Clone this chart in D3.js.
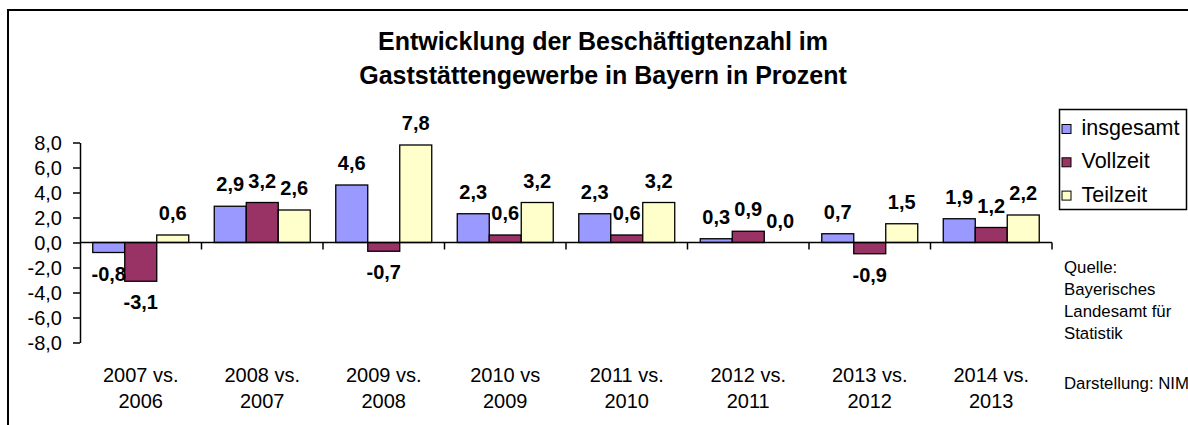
<!DOCTYPE html>
<html>
<head>
<meta charset="utf-8">
<script src="https://cdn.jsdelivr.net/npm/d3@7"></script>
<style>
  body { margin: 0; background: #fff; }
  text { font-family: "Liberation Sans", Arial, sans-serif; }
</style>
</head>
<body>
<div class="center"></div>
<script>
// data
var categories = [["2007 vs.", "2006"], ["2008 vs.", "2007"], ["2009 vs.", "2008"], ["2010 vs", "2009"],
                  ["2011 vs.", "2010"], ["2012 vs.", "2011"], ["2013 vs.", "2012"], ["2014 vs.", "2013"]];
var seriesNames = ["insgesamt", "Vollzeit", "Teilzeit"];
var insgesamt = [-0.8, 2.9, 4.6, 2.3, 2.3, 0.3, 0.7, 1.9];
var vollzeit  = [-3.1, 3.2, -0.7, 0.6, 0.6, 0.9, -0.9, 1.2];
var teilzeit  = [0.6, 2.6, 7.8, 3.2, 3.2, 0.0, 1.5, 2.2];
var yTicks = [-8, -6, -4, -2, 0, 2, 4, 6, 8];
var titleLines = ["Entwicklung der Beschäftigtenzahl im", "Gaststättengewerbe in Bayern in Prozent"];
var sourceLines = ["Quelle:", "Bayerisches", "Landesamt für", "Statistik"];
var credit = "Darstellung: NIM";

var colors = ["#9999ff", "#993366", "#ffffcc"];
var values = [insgesamt, vollzeit, teilzeit];

var width = 1188, height = 425;

var svg = d3.select(".center").append("svg")
    .attr("width", width)
    .attr("height", height);

// outer frame (only left and top visible)
svg.append("rect")
    .attr("x", 8).attr("y", 10)
    .attr("width", 1300).attr("height", 600)
    .attr("fill", "#fff")
    .attr("stroke", "#000")
    .attr("stroke-width", 2);

// scales
var x0 = d3.scaleBand()
    .domain(d3.range(categories.length))
    .range([80, 1052])
    .paddingInner(0.21)
    .paddingOuter(0.105);
var x1 = d3.scaleBand()
    .domain(seriesNames)
    .range([0, x0.bandwidth()]);
var y = d3.scaleLinear().domain([-8, 8]).range([342.5, 142.5]);

// flatten for drawing
var bars = [];
categories.forEach(function(c, i) {
    seriesNames.forEach(function(s, j) {
        bars.push({cat: i, series: s, idx: j, value: values[j][i]});
    });
});

// bars
svg.selectAll("rect.bar")
    .data(bars)
    .enter().append("rect")
    .attr("class", "bar")
    .attr("x", function(d) { return x0(d.cat) + x1(d.series); })
    .attr("width", x1.bandwidth())
    .attr("y", function(d) { return y(Math.max(0, d.value)); })
    .attr("height", function(d) { return Math.abs(y(d.value) - y(0)); })
    .attr("fill", function(d) { return colors[d.idx]; })
    .attr("stroke", "#000")
    .attr("stroke-width", 1.3);

// Y axis
var yAxis = svg.append("g")
    .attr("transform", "translate(80,0)")
    .call(d3.axisLeft(y).tickValues(yTicks).tickSize(7).tickSizeOuter(0)
        .tickFormat(function(d) { return d3.format(".1f")(d).replace(".", ",").replace("−", "-"); }));
yAxis.select(".domain").attr("stroke-width", 1.5);
yAxis.selectAll(".tick line").attr("stroke-width", 1.5);
yAxis.selectAll(".tick text")
    .attr("x", -18)
    .attr("dy", "0.36em")
    .attr("fill", "#000")
    .attr("font-size", "20px")
    .attr("font-family", "Liberation Sans, Arial, sans-serif");

// X axis at zero with category boundary ticks
var gap = (x0.step() - x0.bandwidth()) / 2;
var bounds = d3.range(categories.length).map(function(i) { return x0(i) - gap; });
bounds.push(x0(categories.length - 1) + x0.bandwidth() + gap);

svg.append("line")
    .attr("x1", 80).attr("x2", bounds[bounds.length - 1])
    .attr("y1", y(0)).attr("y2", y(0))
    .attr("stroke", "#000").attr("stroke-width", 1.5);
svg.selectAll("line.xtick")
    .data(bounds.slice(1))
    .enter().append("line")
    .attr("class", "xtick")
    .attr("x1", function(d) { return d; }).attr("x2", function(d) { return d; })
    .attr("y1", y(0)).attr("y2", y(0) + 7)
    .attr("stroke", "#000").attr("stroke-width", 1.5);

// category labels
var catLabels = svg.selectAll("text.cat")
    .data(categories)
    .enter().append("text")
    .attr("class", "cat")
    .attr("text-anchor", "middle")
    .attr("font-size", "20px")
    .attr("fill", "#000");
catLabels.append("tspan")
    .attr("x", function(d, i) { return x0(i) + x0.bandwidth() / 2; })
    .attr("y", 381.5)
    .text(function(d) { return d[0]; });
catLabels.append("tspan")
    .attr("x", function(d, i) { return x0(i) + x0.bandwidth() / 2; })
    .attr("y", 408)
    .text(function(d) { return d[1]; });

// data labels
svg.selectAll("text.val")
    .data(bars)
    .enter().append("text")
    .attr("class", "val")
    .attr("text-anchor", "middle")
    .attr("font-size", "20px")
    .attr("font-weight", "bold")
    .attr("x", function(d) { return x0(d.cat) + x1(d.series) + x1.bandwidth() / 2; })
    .attr("y", function(d) { return d.value < 0 ? y(d.value) + 28 : y(d.value) - 15; })
    .text(function(d) { return d3.format(".1f")(d.value).replace(".", ",").replace("−", "-"); });

// title
svg.selectAll("text.title")
    .data(titleLines)
    .enter().append("text")
    .attr("class", "title")
    .attr("x", 603)
    .attr("y", function(d, i) { return 50 + i * 33.5; })
    .attr("text-anchor", "middle")
    .attr("font-size", "25px")
    .attr("font-weight", "bold")
    .text(function(d) { return d; });

// legend
var legend = svg.append("g").attr("transform", "translate(1059.5,109.5)");
legend.append("rect")
    .attr("width", 127).attr("height", 100)
    .attr("fill", "#fff")
    .attr("stroke", "#000").attr("stroke-width", 1.5);
seriesNames.forEach(function(s, i) {
    legend.append("rect")
        .attr("x", 2.5).attr("y", 15 + i * 33.3)
        .attr("width", 9).attr("height", 9)
        .attr("fill", colors[i])
        .attr("stroke", "#000").attr("stroke-width", 1);
    legend.append("text")
        .attr("x", 22).attr("y", 25.5 + i * 33.3)
        .attr("font-size", "21.5px")
        .text(s);
});

// source note
svg.selectAll("text.src")
    .data(sourceLines)
    .enter().append("text")
    .attr("class", "src")
    .attr("x", 1064)
    .attr("y", function(d, i) { return 272.5 + i * 22; })
    .attr("font-size", "16.8px")
    .text(function(d) { return d; });
svg.append("text")
    .attr("x", 1064).attr("y", 389)
    .attr("font-size", "16.8px")
    .text(credit);
</script>
</body>
</html>
